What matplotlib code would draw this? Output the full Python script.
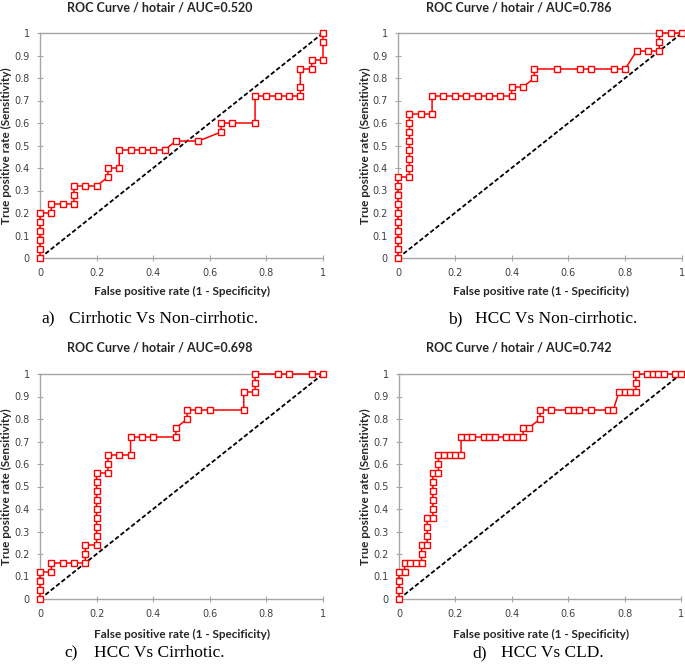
import matplotlib
matplotlib.use("Agg")
import matplotlib.pyplot as plt

# ROC points (FPR, TPR)
fpr_a = [0, 0, 0, 0, 0, 0, 0.04, 0.04, 0.08, 0.12, 0.12, 0.12, 0.16, 0.20, 0.24, 0.24,
         0.28, 0.28, 0.32, 0.36, 0.40, 0.44, 0.48, 0.56, 0.64, 0.64, 0.68, 0.76, 0.76,
         0.80, 0.84, 0.88, 0.92, 0.92, 0.92, 0.96, 0.96, 1.0, 1.0, 1.0]
tpr_a = [0, 0.04, 0.08, 0.12, 0.16, 0.20, 0.20, 0.24, 0.24, 0.24, 0.28, 0.32, 0.32, 0.32,
         0.36, 0.40, 0.40, 0.48, 0.48, 0.48, 0.48, 0.48, 0.52, 0.52, 0.56, 0.60, 0.60,
         0.60, 0.72, 0.72, 0.72, 0.72, 0.72, 0.76, 0.84, 0.84, 0.88, 0.88, 0.96, 1.0]

fpr_b = [0, 0, 0, 0, 0, 0, 0, 0, 0, 0, 0.04, 0.04, 0.04, 0.04, 0.04, 0.04, 0.04, 0.04,
         0.08, 0.12, 0.12, 0.16, 0.20, 0.24, 0.28, 0.32, 0.36, 0.40, 0.40, 0.44, 0.48,
         0.48, 0.56, 0.64, 0.68, 0.76, 0.80, 0.84, 0.88, 0.92, 0.92, 0.92, 0.96, 1.0]
tpr_b = [0, 0.04, 0.08, 0.12, 0.16, 0.20, 0.24, 0.28, 0.32, 0.36, 0.36, 0.40, 0.44, 0.48,
         0.52, 0.56, 0.60, 0.64, 0.64, 0.64, 0.72, 0.72, 0.72, 0.72, 0.72, 0.72, 0.72,
         0.72, 0.76, 0.76, 0.80, 0.84, 0.84, 0.84, 0.84, 0.84, 0.84, 0.92, 0.92, 0.92,
         0.96, 1.0, 1.0, 1.0]

fpr_c = [0, 0, 0, 0, 0.04, 0.04, 0.08, 0.12, 0.16, 0.16, 0.16, 0.20, 0.20, 0.20, 0.20,
         0.20, 0.20, 0.20, 0.20, 0.20, 0.24, 0.24, 0.24, 0.28, 0.32, 0.32, 0.36, 0.40,
         0.48, 0.48, 0.52, 0.52, 0.56, 0.60, 0.72, 0.72, 0.76, 0.76, 0.76, 0.84, 0.88,
         0.96, 1.0]
tpr_c = [0, 0.04, 0.08, 0.12, 0.12, 0.16, 0.16, 0.16, 0.16, 0.20, 0.24, 0.24, 0.28, 0.32,
         0.36, 0.40, 0.44, 0.48, 0.52, 0.56, 0.56, 0.60, 0.64, 0.64, 0.64, 0.72, 0.72,
         0.72, 0.72, 0.76, 0.80, 0.84, 0.84, 0.84, 0.84, 0.92, 0.92, 0.96, 1.0, 1.0, 1.0,
         1.0, 1.0]

fpr_d = [0, 0, 0, 0, 0.02, 0.02, 0.04, 0.06, 0.08, 0.08, 0.08, 0.10, 0.10, 0.10, 0.10,
         0.12, 0.12, 0.12, 0.12, 0.12, 0.12, 0.14, 0.14, 0.14, 0.16, 0.18, 0.20, 0.22,
         0.22, 0.24, 0.26, 0.30, 0.32, 0.34, 0.38, 0.40, 0.42, 0.44, 0.44, 0.46, 0.50,
         0.50, 0.54, 0.60, 0.62, 0.64, 0.68, 0.74, 0.76, 0.78, 0.80, 0.82, 0.84, 0.84,
         0.84, 0.88, 0.90, 0.92, 0.94, 0.98, 1.0]
tpr_d = [0, 0.04, 0.08, 0.12, 0.12, 0.16, 0.16, 0.16, 0.16, 0.20, 0.24, 0.24, 0.28, 0.32,
         0.36, 0.36, 0.40, 0.44, 0.48, 0.52, 0.56, 0.56, 0.60, 0.64, 0.64, 0.64, 0.64,
         0.64, 0.72, 0.72, 0.72, 0.72, 0.72, 0.72, 0.72, 0.72, 0.72, 0.72, 0.76, 0.76,
         0.80, 0.84, 0.84, 0.84, 0.84, 0.84, 0.84, 0.84, 0.84, 0.92, 0.92, 0.92, 0.92,
         0.96, 1.0, 1.0, 1.0, 1.0, 1.0, 1.0, 1.0]

auc_values = ["0.520", "0.786", "0.698", "0.742"]
captions = ["a)", "b)", "c)", "d)"]
caption_texts = ["Cirrhotic Vs Non-cirrhotic.", "HCC Vs Non-cirrhotic.",
                 "HCC Vs Cirrhotic.", "HCC Vs CLD."]
ticks = [0, 0.1, 0.2, 0.3, 0.4, 0.5, 0.6, 0.7, 0.8, 0.9, 1]
tick_labels = ["0", "0.1", "0.2", "0.3", "0.4", "0.5", "0.6", "0.7", "0.8", "0.9", "1"]

W, H = 685, 668
fig = plt.figure(figsize=(W / 100, H / 100), dpi=100)
fig.patch.set_facecolor("white")

# pixel boxes of the plot areas: left, top, right, bottom
boxes = [(40, 33, 323, 258), (398, 33, 682, 258),
         (40, 374, 323, 599), (399, 374, 681, 599)]
title_pos = [(160, 7), (519, 7), (160, 347), (519, 347)]
xlab_pos = [(182, 291), (541, 291), (182, 634), (541, 634)]
ylab_x = [6, 365, 6, 365]
# caption label x, caption text x, y
cap_pos = [(41, 69, 319), (448, 475, 319), (64, 94, 653), (472, 501, 653)]

data = [(fpr_a, tpr_a), (fpr_b, tpr_b), (fpr_c, tpr_c), (fpr_d, tpr_d)]
bold_font = "Lato"
grey = "#a6a6a6"

for i, (fx, ty) in enumerate(data):
    l, t, r, b = boxes[i]
    ax = fig.add_axes([l / W, 1 - b / H, (r - l) / W, (b - t) / H])
    ax.plot([0, 1], [0, 1], color="black", linestyle=(0, (2.5, 1.3)), linewidth=1.3)
    ax.plot(fx, ty, color="#ff0000", linewidth=1.1, marker="s", markersize=4.2,
            markerfacecolor="white", markeredgecolor="#ff0000", markeredgewidth=1.0,
            clip_on=False, zorder=3)
    ax.set_xlim(0, 1)
    ax.set_ylim(0, 1)
    ax.set_xticks(ticks[::2])
    ax.set_xticklabels(tick_labels[::2])
    ax.set_yticks(ticks)
    ax.set_yticklabels(tick_labels)
    ax.tick_params(direction="inout", length=5, width=0.8, color=grey,
                   labelsize=7, labelcolor="#404040", pad=5)
    for side in ["left", "bottom", "top"]:
        ax.spines[side].set_color(grey)
        ax.spines[side].set_linewidth(1.0)
    ax.spines["right"].set_visible(False)

    fig.text(title_pos[i][0] / W, 1 - title_pos[i][1] / H,
             "ROC Curve / hotair / AUC=" + auc_values[i],
             ha="center", va="center", fontsize=9, fontweight="bold",
             family=bold_font, color="#262626")
    fig.text(xlab_pos[i][0] / W, 1 - xlab_pos[i][1] / H,
             "False positive rate (1 - Specificity)",
             ha="center", va="center", fontsize=8.5, fontweight="bold",
             family=bold_font, color="#262626")
    fig.text(ylab_x[i] / W, 1 - ((t + b) / 2) / H,
             "True positive rate (Sensitivity)", rotation=90,
             ha="center", va="center", fontsize=8.5, fontweight="bold",
             family=bold_font, color="#262626")
    lx, tx, cy = cap_pos[i]
    fig.text(lx / W, 1 - cy / H, captions[i], ha="left", va="center",
             fontsize=12.5, family="Liberation Serif", color="black")
    fig.text(tx / W, 1 - cy / H, caption_texts[i], ha="left", va="center",
             fontsize=12.5, family="Liberation Serif", color="black")

fig.savefig("out.png", dpi=100)
